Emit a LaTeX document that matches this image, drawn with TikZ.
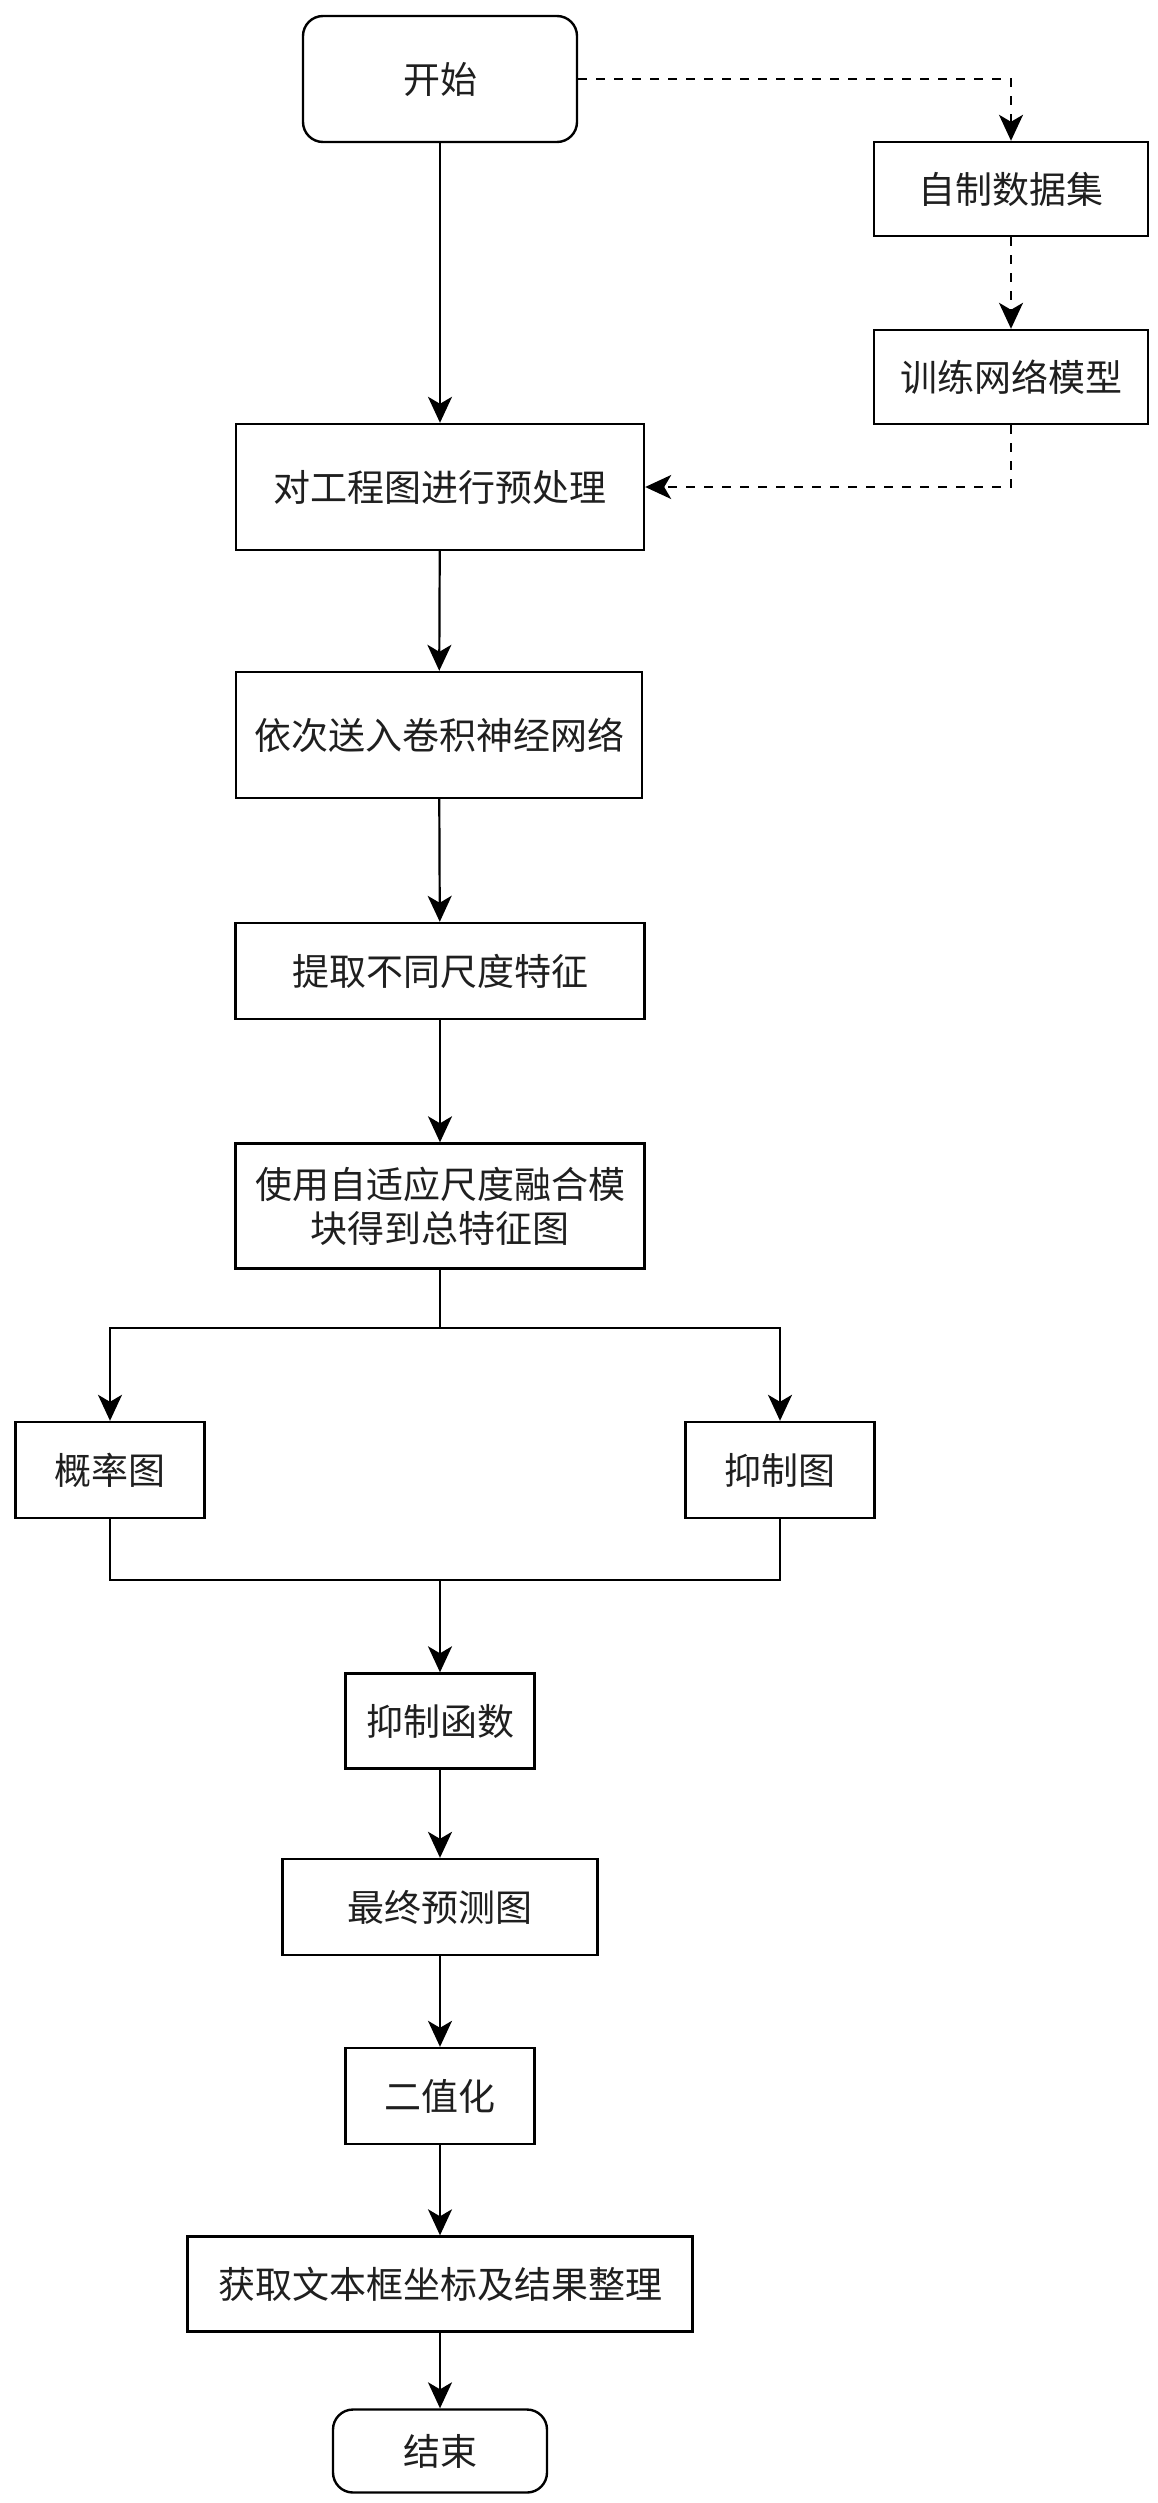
\documentclass[tikz,border=0pt]{standalone}
\usepackage{fontspec}
\setmainfont{Noto Sans CJK SC}
\usetikzlibrary{arrows.meta}
\begin{document}
\begin{tikzpicture}[x=1pt,y=-1pt,
  every node/.style={font=\fontsize{37}{44}\selectfont, text=black!88},
  box/.style={draw, line width=2.4pt, inner sep=0pt, align=center},
  rbox/.style={box, rounded corners=20pt},
  arrow/.style={line width=2.2pt, -{Stealth[length=26pt,width=24pt,inset=7pt]}},
  plain/.style={line width=2.2pt},
  darrow/.style={line width=2.2pt, dash pattern=on 9pt off 9pt, -{Stealth[length=26pt,width=24pt,inset=7pt]}}
]
\useasboundingbox (0,0) rectangle (1157,2503);
\node[rbox, minimum width=274pt, minimum height=126pt] (start) at (440,79) {开始};
\node[box, minimum width=274pt, minimum height=94pt] (data) at (1011,189) {自制数据集};
\node[box, minimum width=274pt, minimum height=94pt] (train) at (1011,377) {训练网络模型};
\node[box, minimum width=408pt, minimum height=126pt] (pre) at (440,487) {对工程图进行预处理};
\node[box, minimum width=406pt, minimum height=126pt] (cnn) at (439,735) {依次送入卷积神经网络};
\node[box, minimum width=409pt, minimum height=96pt] (feat) at (440,971) {提取不同尺度特征};
\node[box, minimum width=409pt, minimum height=125pt] (fuse) at (440,1206) {使用自适应尺度融合模\\块得到总特征图};
\node[box, minimum width=189pt, minimum height=96pt] (prob) at (110,1470) {概率图};
\node[box, minimum width=189pt, minimum height=96pt] (supp) at (780,1470) {抑制图};
\node[box, minimum width=189pt, minimum height=95pt] (func) at (440,1721) {抑制函数};
\node[box, minimum width=315pt, minimum height=96pt] (final) at (440,1907) {最终预测图};
\node[box, minimum width=189pt, minimum height=96pt] (bin) at (440,2096) {二值化};
\node[box, minimum width=505pt, minimum height=95pt] (txt) at (440,2284) {获取文本框坐标及结果整理};
\node[rbox, minimum width=214pt, minimum height=83pt] (end) at (440,2451) {结束};
\coordinate (b1) at (440,1328);
\coordinate (m1) at (440,1580);

\draw[arrow] (start) -- (pre);
\draw[arrow] (pre) -- (cnn);
\draw[arrow] (cnn) -- (feat);
\draw[arrow] (feat) -- (fuse);
\draw[plain] (fuse.south) -- (b1);
\draw[arrow] (b1) -| (prob.north);
\draw[arrow] (b1) -| (supp.north);
\draw[plain] (prob.south) |- (m1);
\draw[plain] (supp.south) |- (m1);
\draw[arrow] (m1) -- (func.north);
\draw[arrow] (func) -- (final);
\draw[arrow] (final) -- (bin);
\draw[arrow] (bin) -- (txt);
\draw[arrow] (txt) -- (end);

\draw[darrow] (start.east) -| (data.north);
\draw[darrow] (data) -- (train);
\draw[darrow] (train.south) |- (pre.east);
\end{tikzpicture}
\end{document}
